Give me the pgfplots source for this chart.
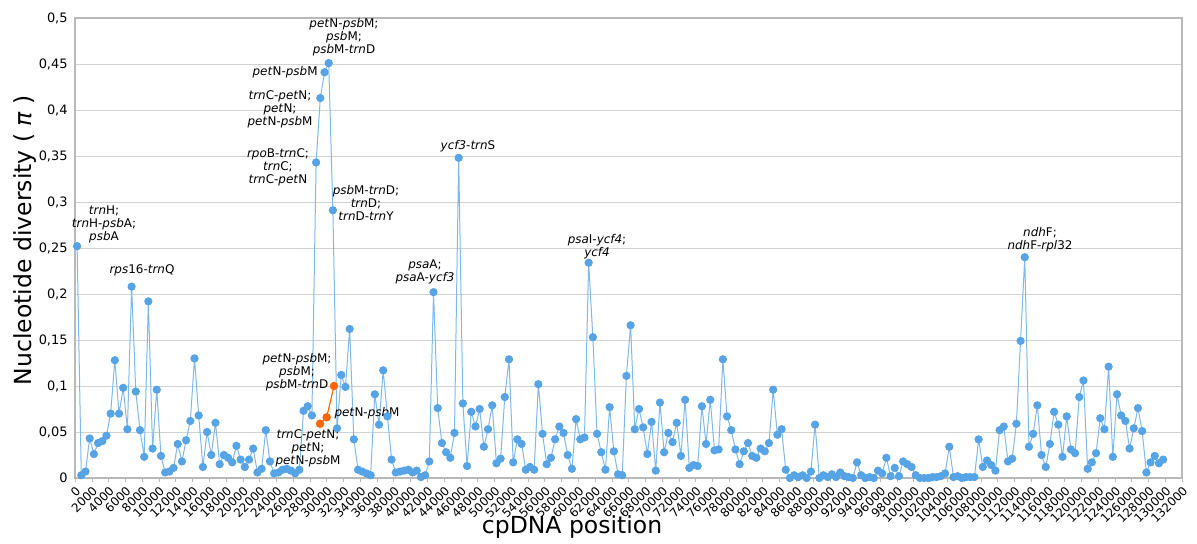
\documentclass[border=0pt]{standalone}
\usepackage{fontspec}
\setmainfont{DejaVu Sans}
\usepackage{pgfplots}
\usepackage{pgfplotstable}
\pgfplotsset{compat=1.18}
\definecolor{ptblue}{RGB}{86,163,230}
\definecolor{lnblue}{RGB}{125,185,238}
\definecolor{ptorange}{RGB}{255,102,0}
\definecolor{gridgray}{RGB}{210,210,210}
\definecolor{axgray}{RGB}{185,185,185}
\newcommand\g[1]{\textit{#1}}

\pgfplotstableread{
pos pi
250 0.252
750 0.003
1250 0.007
1750 0.043
2250 0.026
2750 0.038
3250 0.040
3750 0.046
4250 0.070
4750 0.128
5250 0.070
5750 0.098
6250 0.053
6750 0.208
7250 0.094
7750 0.052
8250 0.023
8750 0.192
9250 0.032
9750 0.096
10250 0.024
10750 0.006
11250 0.007
11750 0.011
12250 0.037
12750 0.018
13250 0.041
13750 0.062
14250 0.130
14750 0.068
15250 0.012
15750 0.050
16250 0.025
16750 0.060
17250 0.015
17750 0.025
18250 0.022
18750 0.017
19250 0.035
19750 0.020
20250 0.012
20750 0.020
21250 0.032
21750 0.006
22250 0.010
22750 0.052
23250 0.018
23750 0.005
24250 0.006
24750 0.009
25250 0.010
25750 0.008
26250 0.005
26750 0.009
27250 0.073
27750 0.078
28250 0.068
28750 0.343
29250 0.413
29750 0.441
30250 0.451
30750 0.291
31250 0.054
31750 0.112
32250 0.099
32750 0.162
33250 0.042
33750 0.009
34250 0.007
34750 0.005
35250 0.003
35750 0.091
36250 0.058
36750 0.117
37250 0.067
37750 0.020
38250 0.006
38750 0.007
39250 0.008
39750 0.009
40250 0.006
40750 0.008
41250 0.001
41750 0.003
42250 0.018
42750 0.202
43250 0.076
43750 0.038
44250 0.028
44750 0.022
45250 0.049
45750 0.348
46250 0.081
46750 0.013
47250 0.072
47750 0.056
48250 0.075
48750 0.034
49250 0.053
49750 0.079
50250 0.016
50750 0.021
51250 0.088
51750 0.129
52250 0.017
52750 0.042
53250 0.037
53750 0.009
54250 0.012
54750 0.009
55250 0.102
55750 0.048
56250 0.015
56750 0.022
57250 0.042
57750 0.056
58250 0.049
58750 0.025
59250 0.010
59750 0.064
60250 0.042
60750 0.044
61250 0.234
61750 0.153
62250 0.048
62750 0.028
63250 0.009
63750 0.077
64250 0.029
64750 0.004
65250 0.003
65750 0.111
66250 0.166
66750 0.053
67250 0.075
67750 0.055
68250 0.026
68750 0.061
69250 0.008
69750 0.082
70250 0.028
70750 0.049
71250 0.039
71750 0.060
72250 0.024
72750 0.085
73250 0.011
73750 0.014
74250 0.013
74750 0.078
75250 0.037
75750 0.085
76250 0.030
76750 0.031
77250 0.129
77750 0.067
78250 0.052
78750 0.031
79250 0.015
79750 0.029
80250 0.038
80750 0.024
81250 0.022
81750 0.032
82250 0.029
82750 0.038
83250 0.096
83750 0.047
84250 0.053
84750 0.009
85250 0.000
85750 0.003
86250 0.001
86750 0.003
87250 0.000
87750 0.007
88250 0.058
88750 0.000
89250 0.003
89750 0.001
90250 0.004
90750 0.001
91250 0.006
91750 0.002
92250 0.001
92750 0.000
93250 0.017
93750 0.003
94250 0.000
94750 0.001
95250 0.000
95750 0.008
96250 0.005
96750 0.022
97250 0.002
97750 0.011
98250 0.002
98750 0.018
99250 0.015
99750 0.012
100250 0.003
100750 0.000
101250 0.000
101750 0.000
102250 0.001
102750 0.001
103250 0.002
103750 0.005
104250 0.034
104750 0.001
105250 0.002
105750 0.000
106250 0.001
106750 0.001
107250 0.001
107750 0.042
108250 0.012
108750 0.019
109250 0.014
109750 0.008
110250 0.052
110750 0.056
111250 0.018
111750 0.021
112250 0.059
112750 0.149
113250 0.240
113750 0.034
114250 0.048
114750 0.079
115250 0.025
115750 0.012
116250 0.037
116750 0.072
117250 0.058
117750 0.023
118250 0.067
118750 0.031
119250 0.027
119750 0.088
120250 0.106
120750 0.010
121250 0.017
121750 0.027
122250 0.065
122750 0.053
123250 0.121
123750 0.023
124250 0.091
124750 0.068
125250 0.062
125750 0.032
126250 0.054
126750 0.076
127250 0.051
127750 0.006
128250 0.017
128750 0.024
129250 0.016
129750 0.020
}\maindata

\pgfplotstableread{
pos pi
29215 0.059
30010 0.066
30885 0.100
}\orangedata

\begin{document}
\begin{tikzpicture}
\begin{axis}[
  scale only axis, width=553.5bp, height=230bp,
  xmin=0, xmax=132000, ymin=0, ymax=0.5,
  clip=false,
  scaled x ticks=false, scaled y ticks=false,
  xtick={0,2000,...,132000},
  xticklabels={0,2000,4000,6000,8000,10000,12000,14000,16000,18000,20000,22000,24000,26000,28000,30000,32000,34000,36000,38000,40000,42000,44000,46000,48000,50000,52000,54000,56000,58000,60000,62000,64000,66000,68000,70000,72000,74000,76000,78000,80000,82000,84000,86000,88000,90000,92000,94000,96000,98000,100000,102000,104000,106000,108000,110000,112000,114000,116000,118000,120000,122000,124000,126000,128000,130000,132000},
  ytick={0,0.05,0.1,0.15,0.2,0.25,0.3,0.35,0.4,0.45,0.5},
  yticklabels={0,{0,05},{0,1},{0,15},{0,2},{0,25},{0,3},{0,35},{0,4},{0,45},{0,5}},
  xticklabel style={rotate=45, anchor=north east, font=\fontsize{6}{7}\selectfont, inner sep=1bp},
  yticklabel style={font=\fontsize{6.5}{7}\selectfont, inner sep=1.5bp},
  xtick pos=bottom, ytick pos=left,
  tick align=outside, major tick length=2bp,
  xtick style={axgray}, ytick style={draw=none},
  ymajorgrids, major grid style={gridgray, line width=0.5bp},
  axis line style={axgray, line width=0.6bp},
  xlabel={cpDNA position},
  xlabel style={at={(rel axis cs:0.449,0)}, anchor=center, yshift=-24.5bp, font=\fontsize{11.8}{14}\selectfont},
  ylabel={Nucleotide diversity ( {\itshape π} )},
  ylabel style={at={(rel axis cs:-0.0452,0.517)}, anchor=center, font=\fontsize{11.8}{14}\selectfont},
]
\addplot[color=lnblue, line width=0.5bp, mark=*, mark size=1.8bp, mark options={draw=ptblue, fill=ptblue}] table[x=pos, y=pi] {\maindata};
\addplot[color=ptorange, line width=0.6bp, mark=*, mark size=1.8bp, mark options={draw=ptorange, fill=ptorange}] table[x=pos, y=pi] {\orangedata};

\begin{scope}[every node/.style={font=\fontsize{6}{6.6}\selectfont, align=center, inner sep=0pt}]
\node at (axis cs:3458,0.276) {\g{trn}H;\\\g{trn}H-\g{psb}A;\\\g{psb}A};
\node at (axis cs:7989,0.226) {\g{rps}16-\g{trn}Q};
\node at (axis cs:32076,0.479) {\g{pet}N-\g{psb}M;\\\g{psb}M;\\\g{psb}M-\g{trn}D};
\node[anchor=east] at (axis cs:28976,0.441) {\g{pet}N-\g{psb}M};
\node at (axis cs:24444,0.401) {\g{trn}C-\g{pet}N;\\\g{pet}N;\\\g{pet}N-\g{psb}M};
\node at (axis cs:24206,0.338) {\g{rpo}B-\g{trn}C;\\\g{trn}C;\\\g{trn}C-\g{pet}N};
\node at (axis cs:34699,0.299) {\g{psb}M-\g{trn}D;\\\g{trn}D;\\\g{trn}D-\g{trn}Y};
\node at (axis cs:26472,0.115) {\g{pet}N-\g{psb}M;\\\g{psb}M;\\\g{psb}M-\g{trn}D};
\node at (axis cs:34818,0.0707) {\g{pet}N-\g{psb}M};
\node at (axis cs:27783,0.0326) {\g{trn}C-\g{pet}N;\\\g{pet}N;\\\g{pet}N-\g{psb}M};
\node at (axis cs:41735,0.224) {\g{psa}A;\\\g{psa}A-\g{ycf3}};
\node at (axis cs:46862,0.361) {\g{ycf3}-\g{trn}S};
\node at (axis cs:62244,0.251) {\g{psa}I-\g{ycf4};\\\g{ycf4}};
\node at (axis cs:115068,0.259) {\g{ndh}F;\\\g{ndh}F-\g{rpl}32};
\end{scope}

\coordinate (bl) at (rel axis cs:0,0);
\coordinate (tr) at (rel axis cs:1,1);
\end{axis}
\pgfresetboundingbox
\useasboundingbox ([xshift=-37.5bp,yshift=-33bp]bl) rectangle ([xshift=7.5bp,yshift=9bp]tr);
\end{tikzpicture}
\end{document}
